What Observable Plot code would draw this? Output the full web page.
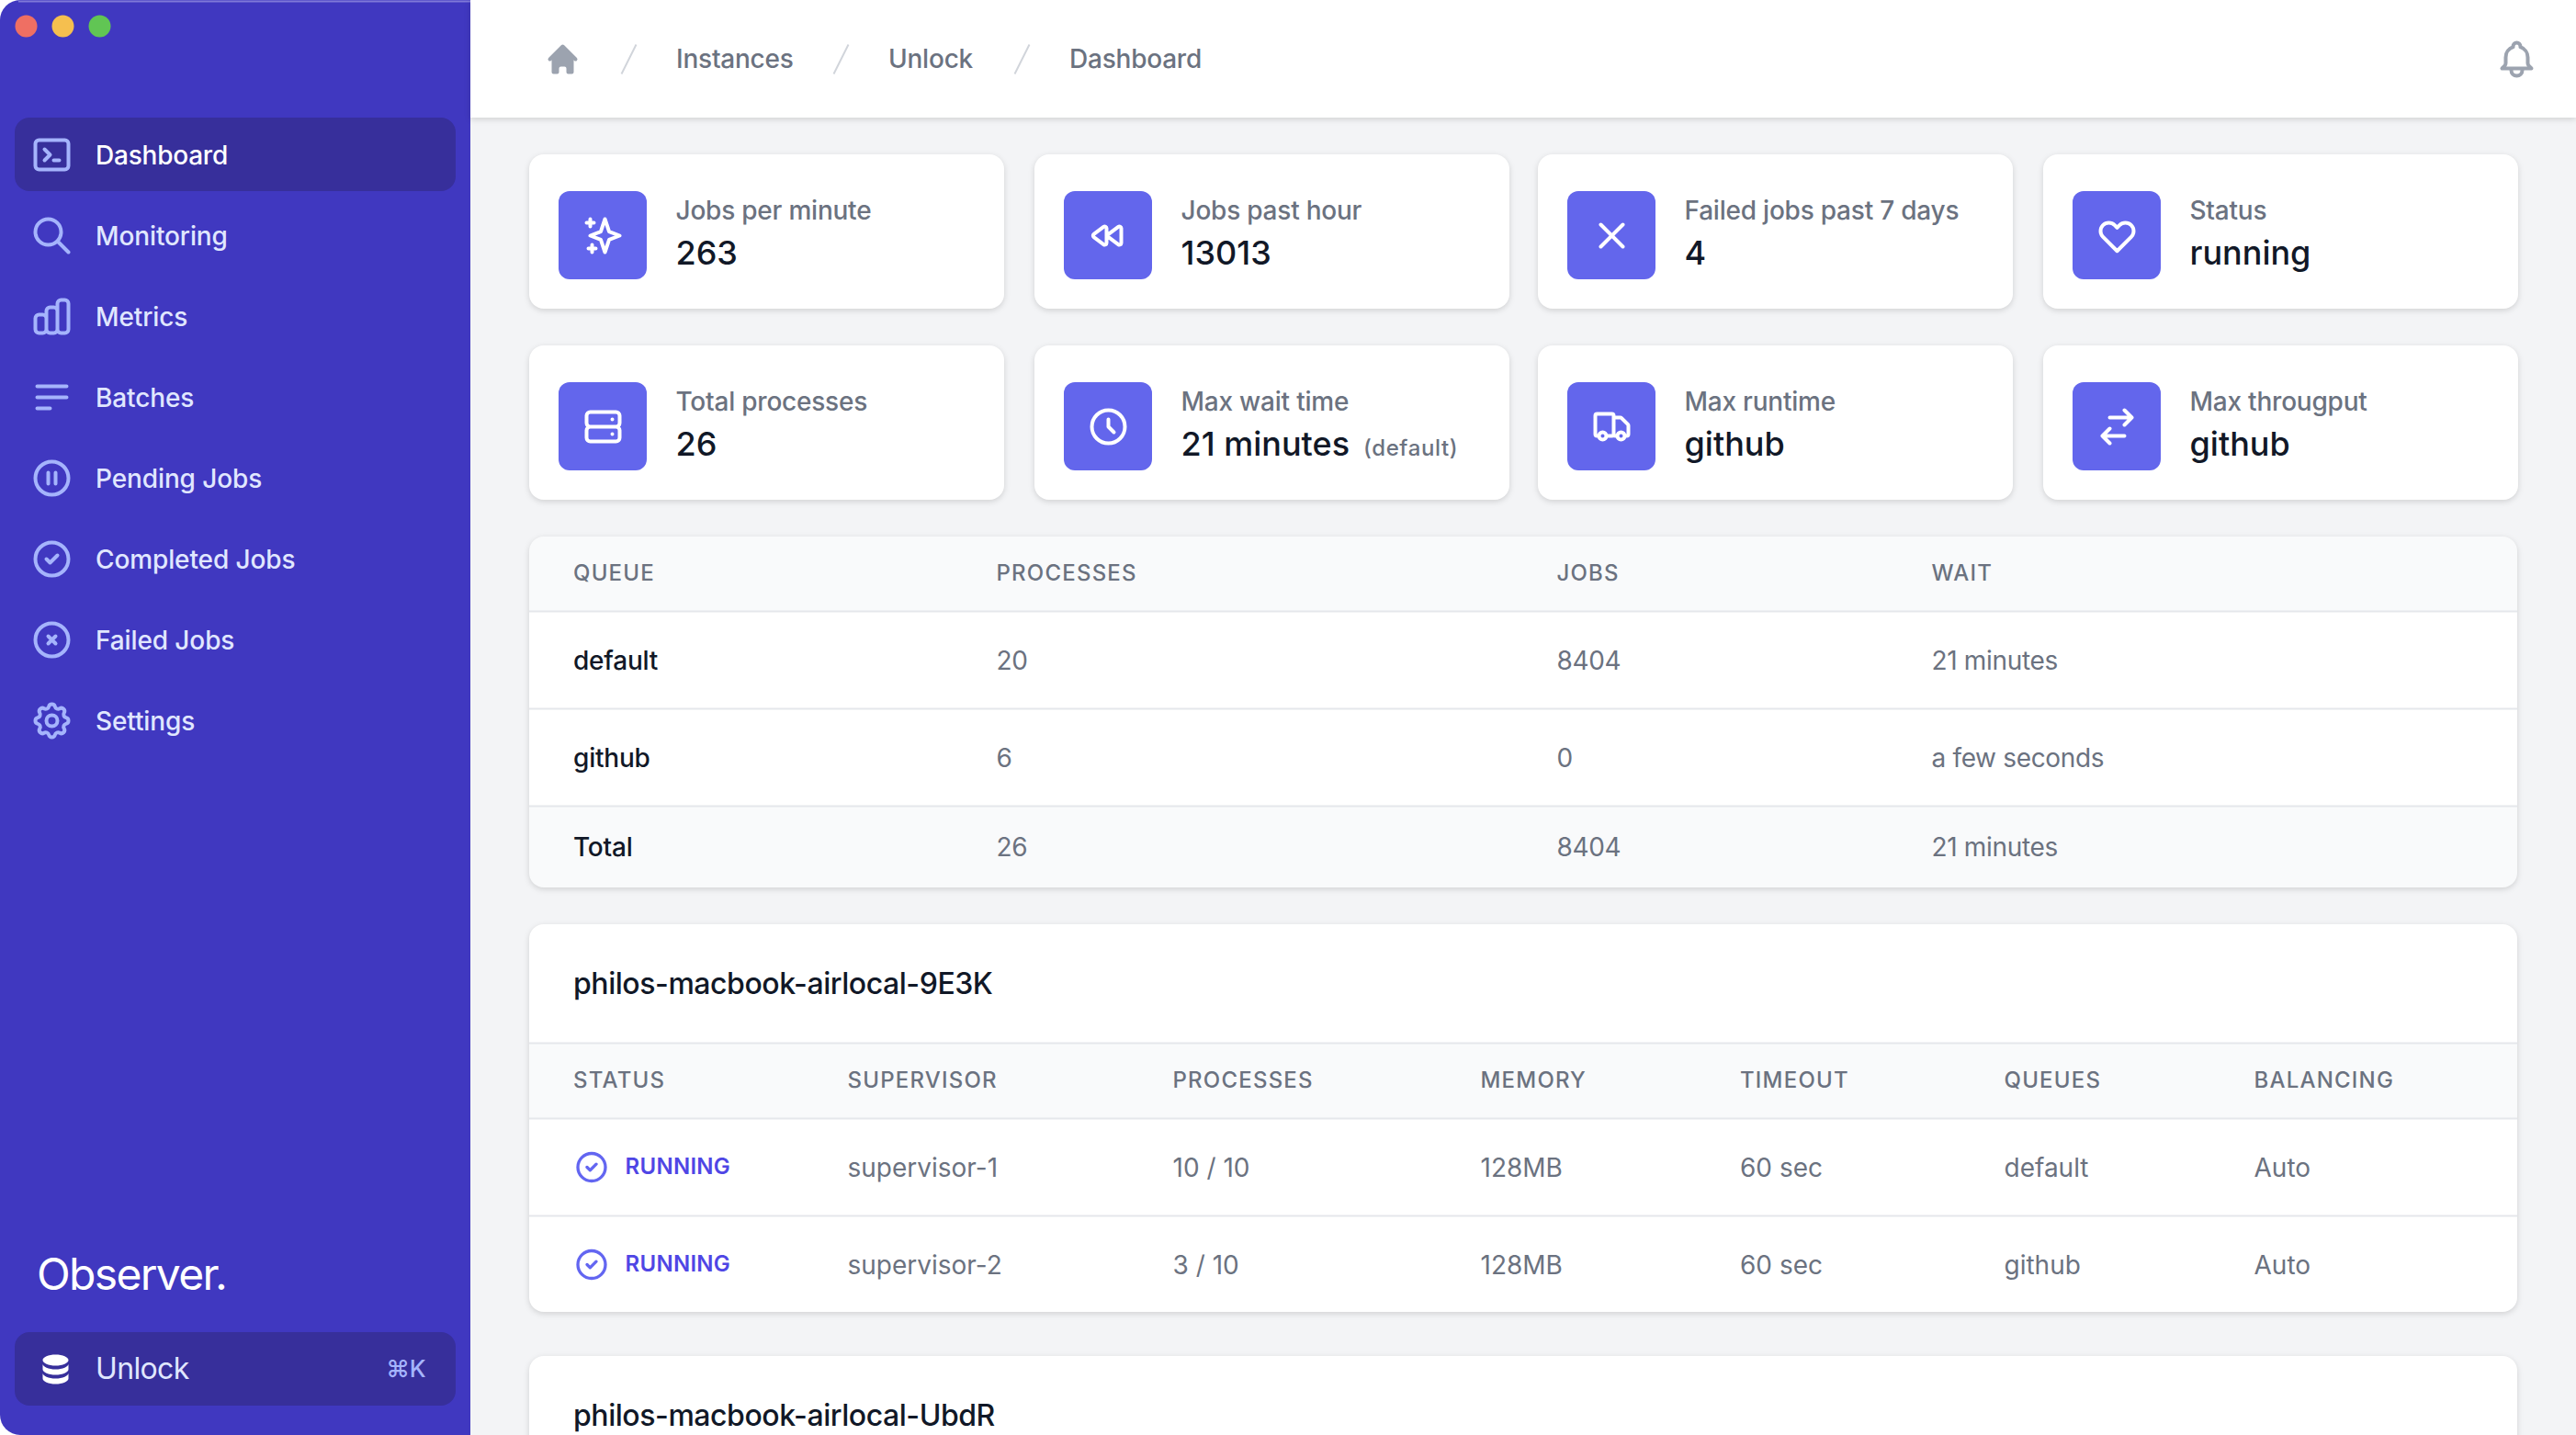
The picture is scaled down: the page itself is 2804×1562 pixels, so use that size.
<!DOCTYPE html>
<html>
<head>
<meta charset="utf-8">
<script src="https://cdn.jsdelivr.net/npm/d3@7"></script>
<script src="https://cdn.jsdelivr.net/npm/@observablehq/plot@0.6"></script>
<style>
html,body{margin:0;padding:0;background:#fff;overflow:hidden;width:2804px;height:1562px}
svg{display:block}
</style>
</head>
<body>
<div id="app"></div>
<script>
// ---------- content ----------
const navItems = ["Dashboard","Monitoring","Metrics","Batches","Pending Jobs","Completed Jobs","Failed Jobs","Settings"];
const navIcons = ["terminal","search","chart","menu","pause","check","xcircle","cog"];
const crumbs = ["Instances","Unlock","Dashboard"];
const cardLabels = ["Jobs per minute","Jobs past hour","Failed jobs past 7 days","Status","Total processes","Max wait time","Max runtime","Max througput"];
const cardValues = ["263","13013","4","running","26","21 minutes","github","github"];
const cardIcons = ["sparkles","rewind","x","heart","server","clock","truck","switch"];
const queueColumns = ["QUEUE","PROCESSES","JOBS","WAIT"];
const queueNames = ["default","github","Total"];
const queueProcesses = [20,6,26];
const queueJobs = [8404,0,8404];
const queueWait = ["21 minutes","a few seconds","21 minutes"];
const hostNames = ["philos-macbook-airlocal-9E3K","philos-macbook-airlocal-UbdR"];
const supervisorColumns = ["STATUS","SUPERVISOR","PROCESSES","MEMORY","TIMEOUT","QUEUES","BALANCING"];
const supervisorStatus = ["RUNNING","RUNNING"];
const supervisorNames = ["supervisor-1","supervisor-2"];
const supervisorProcesses = ["10 / 10","3 / 10"];
const supervisorMemory = ["128MB","128MB"];
const supervisorTimeout = ["60 sec","60 sec"];
const supervisorQueues = ["default","github"];
const supervisorBalancing = ["Auto","Auto"];

// ---------- layout (separate from the content) ----------
const W = 2804, H = 1562;
const C = {side:"#4038c0",active:"#372f9b",soft:"#a5b4fc",navText:"#e0e7ff",bg:"#f3f4f6",ink:"#111827",grey:"#6b7280",
           line:"#e5e7eb",head:"#f9fafb",box:"#6366ec",running:"#4f46e5",ring:"#6366f1"};
const FONT = "Inter, sans-serif";
const navY = navItems.map((_, i) => 169.5 + i * 88);
const crumbX = [735.5,966.5,1163.5];
const slashX = [676,907,1104];
const cardX = [576,1126,1674,2224], cardW = 517, cardY = [168,376], cardH = 168;
const cards = cardLabels.map((label,i) => ({label, value:cardValues[i], icon:cardIcons[i], x:cardX[i%4], y:cardY[Math.floor(i/4)]}));
const queueX = [623.5,1084,1694,2102];
const queueHeadY = 624, queueRowY = [719.5,825.5,922.5];
const supX = [623.5,922,1276,1611,1893.5,2181,2453];
const supHeadY = 1176, supRowY = [1271.5,1377.5];
const iconRowY = [1270,1376];

// ---------- icons (heroicons outlines) ----------
const ICON = {
 terminal:"M8 9l3 3-3 3m5 0h3M5 20h14a2 2 0 002-2V6a2 2 0 00-2-2H5a2 2 0 00-2 2v12a2 2 0 002 2z",
 search:"M21 21l-6-6m2-5a7 7 0 11-14 0 7 7 0 0114 0z",
 chart:"M9 19v-6a2 2 0 00-2-2H5a2 2 0 00-2 2v6a2 2 0 002 2h2a2 2 0 002-2zm0 0V9a2 2 0 012-2h2a2 2 0 012 2v10m-6 0a2 2 0 002 2h2a2 2 0 002-2m0 0V5a2 2 0 012-2h2a2 2 0 012 2v14a2 2 0 01-2 2h-2a2 2 0 01-2-2z",
 menu:"M4 6h16M4 12h16M4 18h7",
 pause:"M10 9v6m4-6v6m7-3a9 9 0 11-18 0 9 9 0 0118 0z",
 check:"M9 12l2 2 4-4m6 2a9 9 0 11-18 0 9 9 0 0118 0z",
 xcircle:"M10 14l2-2m0 0l2-2m-2 2l-2-2m2 2l2 2m7-2a9 9 0 11-18 0 9 9 0 0118 0z",
 cog:"M10.325 4.317c.426-1.756 2.924-1.756 3.35 0a1.724 1.724 0 002.573 1.066c1.543-.94 3.31.826 2.37 2.37a1.724 1.724 0 001.065 2.572c1.756.426 1.756 2.924 0 3.35a1.724 1.724 0 00-1.066 2.573c.94 1.543-.826 3.31-2.37 2.37a1.724 1.724 0 00-2.572 1.065c-.426 1.756-2.924 1.756-3.35 0a1.724 1.724 0 00-2.573-1.066c-1.543.94-3.31-.826-2.37-2.37a1.724 1.724 0 00-1.065-2.572c-1.756-.426-1.756-2.924 0-3.35a1.724 1.724 0 001.066-2.573c-.94-1.543.826-3.31 2.37-2.37.996.608 2.296.07 2.572-1.065zM15 12a3 3 0 11-6 0 3 3 0 016 0z",
 sparkles:"M5 3v4M3 5h4M6 17v4m-2-2h4m5-16l2.286 6.857L21 12l-5.714 2.143L13 21l-2.286-6.857L5 12l5.714-2.143L13 3z",
 rewind:"M12.066 11.2a1 1 0 000 1.6l5.334 4A1 1 0 0019 16V8a1 1 0 00-1.6-.8l-5.333 4zM4.066 11.2a1 1 0 000 1.6l5.334 4A1 1 0 0011 16V8a1 1 0 00-1.6-.8l-5.334 4z",
 x:"M6 18L18 6M6 6l12 12",
 heart:"M4.318 6.318a4.5 4.5 0 000 6.364L12 20.364l7.682-7.682a4.5 4.5 0 00-6.364-6.364L12 7.636l-1.318-1.318a4.5 4.5 0 00-6.364 0z",
 server:"M5 12h14M5 12a2 2 0 01-2-2V6a2 2 0 012-2h14a2 2 0 012 2v4a2 2 0 01-2 2M5 12a2 2 0 00-2 2v4a2 2 0 002 2h14a2 2 0 002-2v-4a2 2 0 00-2-2m-2-4h.01M17 16h.01",
 clock:"M12 8v4l3 3m6-3a9 9 0 11-18 0 9 9 0 0118 0z",
 truck:"M9 17a2 2 0 11-4 0 2 2 0 014 0zM19 17a2 2 0 11-4 0 2 2 0 014 0zM13 16V6a1 1 0 00-1-1H4a1 1 0 00-1 1v10a1 1 0 001 1h1m8-1a1 1 0 01-1 1H9m4-1V8a1 1 0 011-1h2.586a1 1 0 01.707.293l3.414 3.414a1 1 0 01.293.707V16a1 1 0 01-1 1h-1m-6-1a1 1 0 001 1h1M5 17a2 2 0 104 0m-4 0a2 2 0 114 0m6 0a2 2 0 104 0m-4 0a2 2 0 114 0",
 switch:"M8 7h12m0 0l-4-4m4 4l-4 4m0 6H4m0 0l4 4m-4-4l4-4",
 bell:"M15 17h5l-1.405-1.405A2.032 2.032 0 0118 14.158V11a6.002 6.002 0 00-4-5.659V5a2 2 0 10-4 0v.341C7.67 6.165 6 8.388 6 11v3.159c0 .538-.214 1.055-.595 1.436L4 17h5m6 0v1a3 3 0 11-6 0v-1m6 0H9"
};
const HOME = "M10.707 2.293a1 1 0 00-1.414 0l-7 7a1 1 0 001.414 1.414L4 10.414V17a1 1 0 001 1h2a1 1 0 001-1v-2a1 1 0 011-1h2a1 1 0 011 1v2a1 1 0 001 1h2a1 1 0 001-1v-6.586l.293.293a1 1 0 001.414-1.414l-7-7z";
const DB = "M3 12v3c0 1.657 3.134 3 7 3s7-1.343 7-3v-3c0 1.657-3.134 3-7 3s-7-1.343-7-3zM3 7v3c0 1.657 3.134 3 7 3s7-1.343 7-3V7c0 1.657-3.134 3-7 3S3 8.657 3 7zM17 5c0 1.657-3.134 3-7 3S3 6.657 3 5s3.134-3 7-3 7 1.343 7 3z";
const stroked = (name,color) => "data:image/svg+xml," + encodeURIComponent(
 `<svg xmlns="http://www.w3.org/2000/svg" width="96" height="96" viewBox="0 0 24 24" fill="none" stroke="${color}" stroke-width="2" stroke-linecap="round" stroke-linejoin="round"><path d="${ICON[name]}"/></svg>`);
const solid = (d,color) => "data:image/svg+xml," + encodeURIComponent(
 `<svg xmlns="http://www.w3.org/2000/svg" width="80" height="80" viewBox="0 0 20 20" fill="${color}"><path d="${d}"/></svg>`);

// ---------- mark helpers ----------
const css = text => (index,scales,values,dimensions,context,next) => {
  const g = next(index,scales,values,dimensions,context);
  g.setAttribute("style",(g.getAttribute("style")||"")+";"+text);
  return g;
};
const SHADOW = css("filter:drop-shadow(0 2px 3px rgba(0,0,0,.14))");
const txt = (data,o) => Plot.text(data,{textAnchor:"start",lineAnchor:"middle",fontFamily:FONT,render:css("letter-spacing:"+(o.tracking||"-0.008em")),...o});
const box = (data,o) => Plot.rect(data,{x1:d=>d.x1,x2:d=>d.x2,y1:d=>d.y1,y2:d=>d.y2,...o});
const icon = (data,o) => Plot.image(data,o);

// table cells in long form
const queueCells = queueNames.flatMap((n,r) => [n,queueProcesses[r],queueJobs[r],queueWait[r]].map((v,c)=>({v:String(v),c,r})));
const supCells = supervisorStatus.flatMap((s,r) => [s,supervisorNames[r],supervisorProcesses[r],supervisorMemory[r],supervisorTimeout[r],supervisorQueues[r],supervisorBalancing[r]].map((v,c)=>({v,c,r})));

const chart = Plot.plot({
 width:W,height:H,margin:0,
 x:{domain:[0,W],range:[0,W],axis:null},
 y:{domain:[0,H],range:[0,H],axis:null},
 style:{background:"#fff",fontFamily:FONT},
 marks:[
  // page background
  box([{x1:512,x2:W,y1:0,y2:H}],{fill:C.bg}),
  // sidebar
  box([{x1:0,x2:512,y1:0,y2:H}],{fill:C.side,rx:22}),
  box([{x1:100,x2:512,y1:0,y2:H}],{fill:C.side}),
  Plot.ruleY([1],{x1:20,x2:512,stroke:"#7f79d8",strokeWidth:2}),
  Plot.dot(["#ef6f63","#f5bf4f","#61c554"],{x:(_,i)=>28+i*40,y:28,r:12,fill:d=>d}),
  box([{x1:16,x2:496,y1:128,y2:208}],{fill:C.active,rx:16}),
  box([{x1:16,x2:496,y1:1450,y2:1530}],{fill:C.active,rx:16}),
  icon(navItems,{x:56,y:(_,i)=>168+i*88,width:48,height:48,src:(_,i)=>stroked(navIcons[i],C.soft)}),
  txt(navItems.slice(0,1),{x:103.5,y:navY[0],text:d=>d,fontSize:28,fontWeight:500,fill:"#fff"}),
  txt(navItems.slice(1),{x:103.5,y:(_,i)=>navY[i+1],text:d=>d,fontSize:28,fontWeight:500,fill:C.navText,tracking:"-0.004em"}),
  txt(["Observer."],{x:39.5,y:1388.5,text:d=>d,fontSize:48,fontWeight:400,fill:"#fff",tracking:"-0.035em"}),
  icon(["db"],{x:60,y:1490,width:40,height:40,src:()=>solid(DB,"#fff")}),
  txt(["Unlock"],{x:103.5,y:1490.5,text:d=>d,fontSize:32,fontWeight:400,fill:C.navText,tracking:"-0.02em"}),
  txt(["⌘K"],{x:463,y:1490,text:d=>d,textAnchor:"end",fontSize:26,fontWeight:500,fill:C.soft}),
  // top bar
  box([{x1:512,x2:W,y1:0,y2:128}],{fill:"#fff",render:SHADOW}),
  icon(["home"],{x:612,y:64,width:40,height:40,src:()=>solid(HOME,"#9ca3af")}),
  Plot.link(crumbs,{x1:(_,i)=>slashX[i],x2:(_,i)=>slashX[i]+16,y1:80,y2:48,stroke:"#d1d5db",strokeWidth:2}),
  txt(crumbs,{x:(_,i)=>crumbX[i],y:65,text:d=>d,fontSize:28,fontWeight:500,fill:C.grey}),
  icon(["bell"],{x:2739,y:64,width:48,height:48,src:()=>stroked("bell","#9ca3af")}),
  // stat cards
  Plot.rect(cards,{x1:d=>d.x,x2:d=>d.x+cardW,y1:d=>d.y,y2:d=>d.y+cardH,fill:"#fff",rx:16,render:SHADOW}),
  Plot.rect(cards,{x1:d=>d.x+32,x2:d=>d.x+128,y1:d=>d.y+40,y2:d=>d.y+136,fill:C.box,rx:12}),
  icon(cards,{x:d=>d.x+80,y:d=>d.y+88,width:48,height:48,src:d=>stroked(d.icon,"#fff")}),
  txt(cards,{x:d=>d.x+159,y:d=>d.y+61.5,text:"label",fontSize:28,fontWeight:500,fill:C.grey}),
  txt(cards,{x:d=>d.x+159,y:d=>d.y+107.5,text:"value",fontSize:36,fontWeight:500,fill:C.ink,tracking:"0em"}),
  txt(["(default)"],{x:1483.5,y:488,text:d=>d,fontSize:24,fontWeight:500,fill:C.grey,tracking:"0.025em"}),
  // queue table
  Plot.rect([0],{x1:576,x2:2740,y1:584,y2:966,fill:C.head,rx:16,render:SHADOW}),
  Plot.rect([0],{x1:576,x2:2740,y1:665,y2:878,fill:"#fff"}),
  Plot.ruleY([665,771,877],{x1:576,x2:2740,stroke:C.line,strokeWidth:2}),
  txt(queueColumns,{x:(_,i)=>queueX[i],y:queueHeadY,text:d=>d,fontSize:24,fontWeight:500,fill:C.grey,tracking:"0.05em"}),
  txt(queueCells.filter(d=>d.c===0),{x:d=>queueX[d.c],y:d=>queueRowY[d.r],text:"v",fontSize:28,fontWeight:500,fill:C.ink}),
  txt(queueCells.filter(d=>d.c>0),{x:d=>queueX[d.c],y:d=>queueRowY[d.r],text:"v",fontSize:28,fontWeight:400,fill:C.grey,tracking:"-0.012em"}),
  // host cards
  Plot.rect([[1006,1428],[1476,1640]],{x1:576,x2:2740,y1:d=>d[0],y2:d=>d[1],fill:"#fff",rx:16,render:SHADOW}),
  txt(hostNames,{x:623.5,y:(_,i)=>[1071,1541][i],text:d=>d,fontSize:32,fontWeight:500,fill:C.ink,tracking:"-0.014em"}),
  Plot.rect([0],{x1:576,x2:2740,y1:1135,y2:1217,fill:C.head}),
  Plot.ruleY([1135,1217,1323],{x1:576,x2:2740,stroke:C.line,strokeWidth:2}),
  txt(supervisorColumns,{x:(_,i)=>supX[i],y:supHeadY,text:d=>d,fontSize:24,fontWeight:500,fill:C.grey,tracking:"0.05em"}),
  icon(supervisorStatus,{x:643.5,y:(_,i)=>iconRowY[i],width:40,height:40,src:()=>stroked("check",C.ring)}),
  txt(supCells.filter(d=>d.c===0),{x:680,y:d=>supRowY[d.r]-1.5,text:"v",fontSize:24,fontWeight:600,fill:C.running,tracking:"0.012em"}),
  txt(supCells.filter(d=>d.c>0),{x:d=>supX[d.c],y:d=>supRowY[d.r],text:"v",fontSize:28,fontWeight:400,fill:C.grey,tracking:"0em"})
 ]
});
document.getElementById("app").append(chart);
</script>
</body>
</html>
